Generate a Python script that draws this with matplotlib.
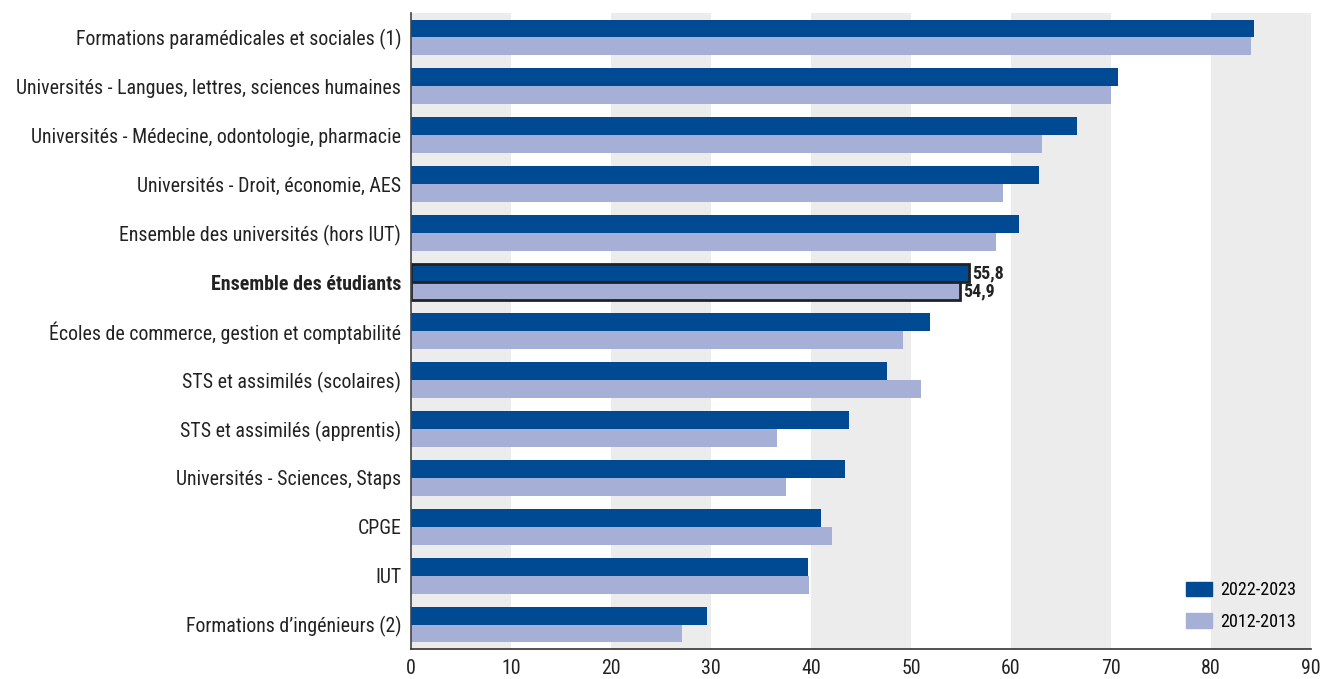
import numpy as np
import matplotlib
matplotlib.use("Agg")
import matplotlib.pyplot as plt
from matplotlib.patches import Patch
from matplotlib import font_manager as fm

# pick a condensed sans if one is installed
installed = {f.name for f in fm.fontManager.ttflist}
candidates = ["Roboto Condensed", "Liberation Sans Narrow", "Archivo Narrow", "PT Sans Narrow",
              "Fira Sans Condensed", "IBM Plex Sans Condensed", "Barlow Condensed",
              "Open Sans Condensed", "Encode Sans Condensed", "Pragati Narrow", "Roboto"]
main_font = next((c for c in candidates if c in installed), "DejaVu Sans")
plt.rcParams['font.family'] = [main_font, 'DejaVu Sans']

categories = [
    "Formations paramédicales et sociales (1)",
    "Universités - Langues, lettres, sciences humaines",
    "Universités - Médecine, odontologie, pharmacie",
    "Universités - Droit, économie, AES",
    "Ensemble des universités (hors IUT)",
    "Ensemble des étudiants",
    "Écoles de commerce, gestion et comptabilité",
    "STS et assimilés (scolaires)",
    "STS et assimilés (apprentis)",
    "Universités - Sciences, Staps",
    "CPGE",
    "IUT",
    "Formations d\u2019ingénieurs (2)",
]
values_2022 = [84.3, 70.7, 66.6, 62.8, 60.8, 55.8, 51.9, 47.6, 43.8, 43.4, 41.0, 39.7, 29.6]
values_2012 = [84.0, 70.0, 63.1, 59.2, 58.5, 54.9, 49.2, 51.0, 36.6, 37.5, 42.1, 39.8, 27.1]
highlight = "Ensemble des étudiants"

dark = "#004a93"
light = "#a6afd6"
band = "#ececec"

fig = plt.figure(figsize=(13.2, 6.79), dpi=100)
ax = fig.add_axes([411 / 1320, 30 / 679, 900 / 1320, 636 / 679])

n = len(categories)
y = np.arange(n)[::-1]
h = 0.367

# alternating background bands
for x0 in range(0, 90, 20):
    ax.axvspan(x0, x0 + 10, color=band, zorder=0, lw=0)

for i, cat in enumerate(categories):
    hl = cat == highlight
    ec = "#222222" if hl else "none"
    lw = 2 if hl else 0
    ax.barh(y[i] + h / 2, values_2022[i], height=h, color=dark, edgecolor=ec, linewidth=lw, zorder=2)
    ax.barh(y[i] - h / 2, values_2012[i], height=h, color=light, edgecolor=ec, linewidth=lw, zorder=2)
    if hl:
        ax.text(values_2022[i] + 0.3, y[i] + h / 2, f"{values_2022[i]:.1f}".replace(".", ","),
                va="center", ha="left", fontsize=13, fontweight="bold", color="#222222")
        ax.text(values_2012[i] + 0.3, y[i] - h / 2, f"{values_2012[i]:.1f}".replace(".", ","),
                va="center", ha="left", fontsize=13, fontweight="bold", color="#222222")

ax.set_xlim(0, 90)
ax.set_ylim(-0.5, n - 0.5)
ax.set_xticks(range(0, 91, 10))
ax.set_yticks(y)
ax.set_yticklabels(categories)
for lbl in ax.get_yticklabels():
    if lbl.get_text() == highlight:
        lbl.set_fontweight("bold")
ax.tick_params(axis="both", length=0, labelsize=14.3, colors="#222222")
ax.tick_params(axis="y", pad=7)
ax.tick_params(axis="x", pad=7)

for s in ["top", "right"]:
    ax.spines[s].set_visible(False)
ax.spines["left"].set_color("#444444")
ax.spines["bottom"].set_color("#333333")
ax.spines["left"].set_linewidth(1.2)
ax.spines["bottom"].set_linewidth(1.2)

handles = [Patch(color=dark, label="2022-2023"), Patch(color=light, label="2012-2013")]
ax.legend(handles=handles, loc="lower right", frameon=False, fontsize=13,
          handlelength=1.45, handleheight=0.85, handletextpad=0.45, labelspacing=0.75,
          borderaxespad=0.6, bbox_to_anchor=(1.004, 0.0))

fig.savefig("out.png", dpi=100)
